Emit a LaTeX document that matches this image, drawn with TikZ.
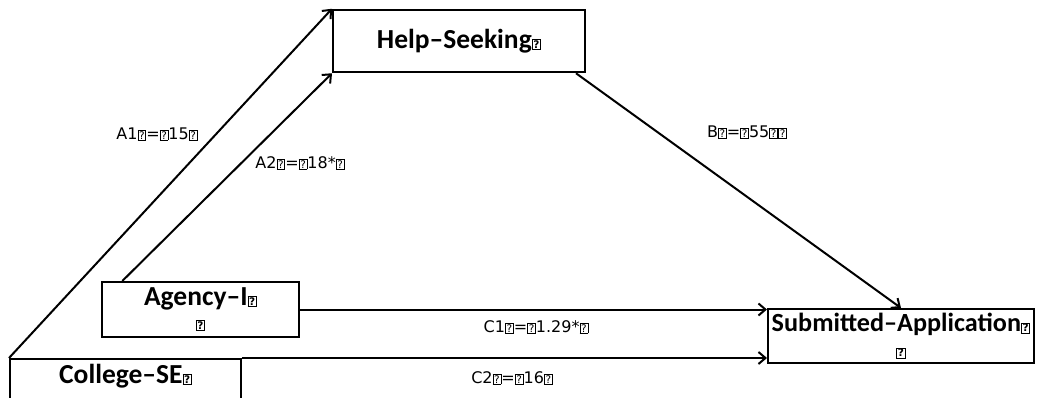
\documentclass[tikz,border=0pt]{standalone}
\usepackage{fontspec}
\setmainfont{Carlito}
\newfontfamily\labelfont{DejaVu Sans}
\usetikzlibrary{arrows.meta,calc}

% small framed question mark used as placeholder glyph
\newcommand\qb{{\fontsize{10.5}{10.5}\selectfont\labelfont\fboxsep=0.8pt\fboxrule=0.8pt\fbox{?}}}

\tikzset{
  var/.style={draw, line width=2pt, inner sep=0pt, align=center,
    font=\fontsize{27.5}{24}\selectfont\bfseries},
  path/.style={line width=2pt, -{Straight Barb[length=7pt,width=12pt,line width=2pt]}},
  coef/.style={inner sep=0pt, font=\fontsize{16}{16}\selectfont\labelfont}
}

\begin{document}
\begin{tikzpicture}[x=1pt,y=-1pt]
\path[use as bounding box] (0,0) rectangle (1042,397);
\clip (0,0) rectangle (1042,397);

% variables
\node[var, minimum width=252pt, minimum height=62.5pt] (help) at (459,41) {Help--Seeking\qb};
\node[var, minimum width=197pt, minimum height=55pt] (agency) at (200.5,309.5) {Agency--I\qb\\\qb};
\node[var, minimum width=231pt, minimum height=55pt, text depth=25pt] (college) at (125.5,386.5) {College--SE\qb};
\node[var, minimum width=266pt, minimum height=54pt, font=\fontsize{26.2}{25}\selectfont\bfseries] (submit) at (901,336) {Submitted--Application\qb\\\qb};

% paths
\draw[path] (college.north west) -- (help.north west);
\draw[path] ($(agency.north west)!0.107!(agency.north east)$) -- (help.south west);
\draw[path] ($(help.south east)+(-10,0)$) -- (submit.north);
\draw[path] (agency.east) -- (agency.east -| submit.west);
\draw[path] (college.north east) -- (college.north east -| submit.west);

% coefficients
\node[coef] (a1) at (157,134) {A1\qb=\qb15\qb};
\node[coef] (a2) at (300,163) {A2\qb=\qb18*\qb};
\node[coef] (b) at (747,132) {B\qb=\qb55\qb\qb};
\node[coef] (c1) at (536,327) {C1\qb=\qb1.29*\qb};
\node[coef] (c2) at (512,378) {C2\qb=\qb16\qb};
\end{tikzpicture}
\end{document}
